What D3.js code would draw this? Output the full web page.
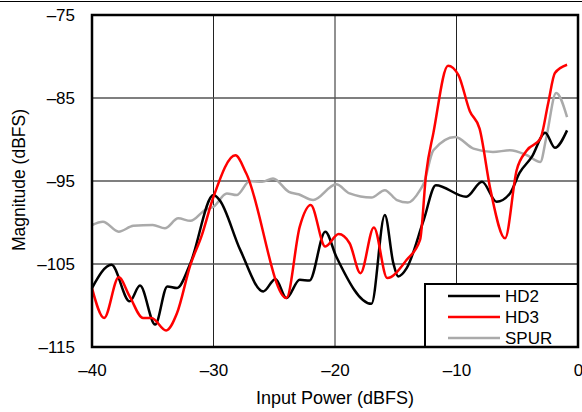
<!DOCTYPE html>
<html>
<head>
<meta charset="utf-8">
<script src="https://cdn.jsdelivr.net/npm/d3@7"></script>
<style>
    body { margin: 0; background: #fff; }
    text { font-family: "Liberation Sans", Arial, sans-serif; }
</style>
</head>
<body>
<div id="chartdiv"></div>
<script>
// data
let hd2_x = [-40, -38.4, -36.9, -36.05, -34.8, -33.8, -33.0, -31.9, -30, -29.5, -27.8, -25.9, -24.9, -24.0, -22.9, -22.1, -20.8, -19.9, -17.0, -15.9, -15.2, -14.8, -14.1, -12.7, -11.7, -9.2, -7.9, -6.7, -5.6, -4.8, -3.8, -2.7, -1.9, -0.9],
    hd2_y = [-107.9, -105.1, -109.5, -107.6, -112.3, -107.7, -107.9, -104.9, -96.7, -97.3, -103.3, -108.3, -106.8, -109.1, -106.9, -107.0, -101.1, -104.1, -109.8, -99.1, -104.9, -106.5, -105.5, -99.7, -95.5, -96.9, -95.1, -97.5, -96.5, -94.0, -92.1, -89.2, -91.0, -88.9];
let hd3_x = [-40, -39.0, -37.8, -36.9, -35.8, -35.1, -33.9, -33.0, -31.9, -31.0, -30, -28.2, -27.3, -24.0, -22.9, -22.0, -20.8, -19.7, -18.8, -17.9, -16.8, -15.7, -14.1, -13.0, -12.5, -11.9, -10.7, -9.85, -8.9, -8.1, -7.2, -6.0, -5.05, -4.2, -3.1, -2.45, -1.9, -0.9],
    hd3_y = [-107.9, -111.5, -106.6, -108.9, -111.5, -111.5, -113.0, -110.9, -105.1, -101.7, -96.9, -91.9, -94.1, -109.1, -100.5, -97.9, -102.9, -101.4, -102.5, -106.1, -100.6, -106.7, -104.5, -102.1, -94.1, -89.2, -81.1, -82.2, -86.6, -88.7, -96.1, -101.9, -93.7, -91.3, -89.9, -85.6, -82.0, -81.0];
let spur_x = [-40, -39.1, -37.8, -36.6, -35.0, -34.0, -32.9, -31.9, -30.7, -30, -28.9, -28.1, -27.0, -26.0, -25.1, -23.8, -23.0, -21.8, -19.9, -18.8, -17.0, -15.9, -14.9, -14.0, -13.0, -12.7, -11.9, -10.1, -8.6, -7.0, -5.6, -4.2, -3.1, -2.6, -1.8, -0.9],
    spur_y = [-100.3, -99.9, -101.1, -100.4, -100.3, -100.7, -99.5, -99.8, -98.5, -98.1, -96.5, -96.7, -95.0, -95.1, -94.7, -96.3, -96.6, -97.3, -95.4, -96.5, -97.0, -96.1, -97.3, -97.6, -96.1, -95.3, -91.3, -89.7, -91.1, -91.5, -91.3, -91.9, -92.7, -89.7, -84.4, -87.3];
let x_ticks = [-40, -30, -20, -10, 0],
    y_ticks = [-115, -105, -95, -85, -75];
let series_names = ["HD2", "HD3", "SPUR"],
    series_colors = ["#000000", "#ff0000", "#aaaaaa"];

// draw
{
    function drawChart() {
        let width = 582,
            height = 412,
            margin = { top: 15, right: 4, bottom: 65, left: 92 };

        let svg = d3.select("#chartdiv").append("svg")
            .attr("width", width)
            .attr("height", height);

        let x = d3.scaleLinear()
            .domain([-40, 0])
            .range([margin.left, width - margin.right]);
        let y = d3.scaleLinear()
            .domain([-115, -75])
            .range([height - margin.bottom, margin.top]);

        // line across the top of the page
        svg.append("line")
            .attr("x1", 0).attr("x2", width)
            .attr("y1", 1.5).attr("y2", 1.5)
            .attr("stroke", "#000")
            .attr("stroke-width", 1.2);

        // grid
        svg.selectAll(".vgrid")
            .data(x_ticks.slice(1, -1))
            .enter()
            .append("line")
            .attr("class", "vgrid")
            .attr("x1", d => x(d)).attr("x2", d => x(d))
            .attr("y1", y(-75)).attr("y2", y(-115))
            .attr("stroke", "#222")
            .attr("stroke-width", 1);
        svg.selectAll(".hgrid")
            .data(y_ticks.slice(1, -1))
            .enter()
            .append("line")
            .attr("class", "hgrid")
            .attr("x1", x(-40)).attr("x2", x(0))
            .attr("y1", d => y(d)).attr("y2", d => y(d))
            .attr("stroke", "#555")
            .attr("stroke-width", 1.3);

        // axes (labels only)
        let fmt = d => d == 0 ? "0" : "\u2013" + Math.abs(d);
        let xAxis = d3.axisBottom(x)
            .tickValues(x_ticks)
            .tickFormat(fmt)
            .tickSize(0)
            .tickPadding(17);
        let yAxis = d3.axisLeft(y)
            .tickValues(y_ticks)
            .tickFormat(fmt)
            .tickSize(0)
            .tickPadding(17);
        let gx = svg.append("g")
            .attr("transform", "translate(0," + (height - margin.bottom) + ")")
            .call(xAxis);
        let gy = svg.append("g")
            .attr("transform", "translate(" + margin.left + ",0)")
            .call(yAxis);
        [gx, gy].forEach(function(g) {
            g.select(".domain").remove();
            g.selectAll("text")
                .attr("font-size", 17)
                .attr("fill", "#000")
                .style("font-family", "'Liberation Sans', Arial, sans-serif");
        });

        svg.append("text")
            .attr("x", x(-20))
            .attr("y", 404)
            .attr("text-anchor", "middle")
            .attr("font-size", 18)
            .text("Input Power (dBFS)");
        svg.append("text")
            .attr("transform", "translate(25," + ((margin.top + height - margin.bottom) / 2 - 1) + ") rotate(-90)")
            .attr("text-anchor", "middle")
            .attr("font-size", 17.5)
            .text("Magnitude (dBFS)");

        // lines
        let xs = [hd2_x, hd3_x, spur_x],
            ys = [hd2_y, hd3_y, spur_y];
        let line = d3.line()
            .x(d => x(d[0]))
            .y(d => y(d[1]))
            .curve(d3.curveMonotoneX);
        // draw spur first so it sits under the others
        [2, 0, 1].forEach(function(k) {
            let pts = d3.zip(xs[k], ys[k]);
            svg.append("path")
                .datum(pts)
                .attr("d", line)
                .attr("fill", "none")
                .attr("stroke", series_colors[k])
                .attr("stroke-width", 2.5)
                .attr("stroke-linejoin", "round");
        });

        // legend
        {
            let lx = 425,
                ly = 284,
                lw = x(0) - lx,
                lh = y(-115) - ly;
            svg.append("rect")
                .attr("x", lx).attr("y", ly)
                .attr("width", lw).attr("height", lh)
                .attr("fill", "#fff")
                .attr("stroke", "#000")
                .attr("stroke-width", 2);
            svg.selectAll(".legLine")
                .data(series_names)
                .enter()
                .append("line")
                .attr("class", "legLine")
                .attr("x1", 448).attr("x2", 500)
                .attr("y1", (d, i) => ly + 12 + i * 21)
                .attr("y2", (d, i) => ly + 12 + i * 21)
                .attr("stroke", (d, i) => series_colors[i])
                .attr("stroke-width", 2.5);
            svg.selectAll(".legText")
                .data(series_names)
                .enter()
                .append("text")
                .attr("class", "legText")
                .attr("x", 505)
                .attr("y", (d, i) => ly + 12 + i * 21)
                .attr("dy", "0.36em")
                .attr("font-size", 17)
                .text(d => d);
        }

        // frame
        svg.append("rect")
            .attr("x", x(-40)).attr("y", y(-75))
            .attr("width", x(0) - x(-40))
            .attr("height", y(-115) - y(-75))
            .attr("fill", "none")
            .attr("stroke", "#000")
            .attr("stroke-width", 2.5);
    }
}

// main
drawChart();
</script>
</body>
</html>
